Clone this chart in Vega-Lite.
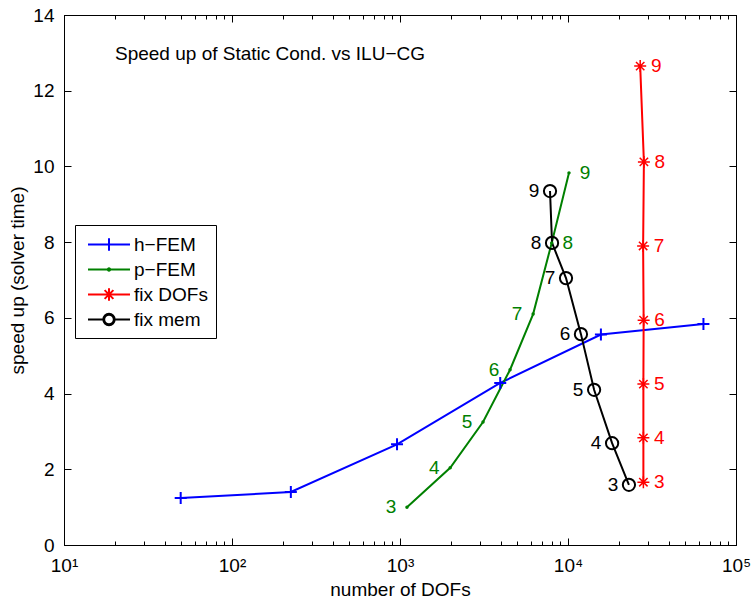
{
  "$schema": "https://vega.github.io/schema/vega-lite/v6.json",
  "width": 672,
  "height": 530,
  "autosize": {"type": "none"},
  "padding": {"left": 64, "top": 15, "right": 16, "bottom": 57},
  "background": "white",
  "title": {
    "text": "Speed up of Static Cond. vs ILU−CG",
    "anchor": "start",
    "frame": "group",
    "orient": "top",
    "offset": 0,
    "baseline": "alphabetic",
    "dx": 51,
    "dy": 73,
    "fontSize": 19,
    "fontWeight": "normal",
    "font": "Liberation Sans",
    "color": "black"
  },
  "config": {
    "font": "Liberation Sans",
    "view": {"stroke": "black", "strokeWidth": 1},
    "axis": {
      "grid": false,
      "domainColor": "black",
      "domainWidth": 1,
      "tickColor": "black",
      "tickWidth": 1,
      "labelColor": "black",
      "labelFontSize": 19,
      "labelFont": "Liberation Sans",
      "titleFont": "Liberation Sans",
      "titleFontSize": 19,
      "titleFontWeight": "normal",
      "titleColor": "black",
      "labelOverlap": false,
      "labelFlush": false,
      "labelBound": false
    },
    "legend": {
      "title": null,
      "orient": "none",
      "legendX": 11,
      "legendY": 210,
      "symbolSize": 441,
      "symbolStrokeWidth": 2,
      "symbolOpacity": 1,
      "symbolOffset": 14.5,
      "labelFontSize": 19,
      "labelFont": "Liberation Sans",
      "labelColor": "black",
      "labelOffset": 13.5,
      "rowPadding": 3,
      "padding": 8,
      "strokeColor": "black",
      "fillColor": "white",
      "symbolFillColor": "transparent"
    }
  },
  "data": {
    "values": [
      {"series": "h−FEM", "n": 1, "dofs": 49.5, "speedup": 1.24},
      {"series": "h−FEM", "n": 2, "dofs": 224, "speedup": 1.40},
      {"series": "h−FEM", "n": 3, "dofs": 960, "speedup": 2.66},
      {"series": "h−FEM", "n": 4, "dofs": 3950, "speedup": 4.28},
      {"series": "h−FEM", "n": 5, "dofs": 15700, "speedup": 5.56},
      {"series": "h−FEM", "n": 6, "dofs": 64000, "speedup": 5.84},
      {"series": "p−FEM", "n": 3, "dofs": 1100, "speedup": 1.0},
      {"series": "p−FEM", "n": 4, "dofs": 1990, "speedup": 2.04},
      {"series": "p−FEM", "n": 5, "dofs": 3120, "speedup": 3.25},
      {"series": "p−FEM", "n": 6, "dofs": 4520, "speedup": 4.63},
      {"series": "p−FEM", "n": 7, "dofs": 6200, "speedup": 6.10},
      {"series": "p−FEM", "n": 8, "dofs": 8000, "speedup": 7.98},
      {"series": "p−FEM", "n": 9, "dofs": 10140, "speedup": 9.83},
      {"series": "fix DOFs", "n": 3, "dofs": 28100, "speedup": 1.66},
      {"series": "fix DOFs", "n": 4, "dofs": 28100, "speedup": 2.83},
      {"series": "fix DOFs", "n": 5, "dofs": 28100, "speedup": 4.25},
      {"series": "fix DOFs", "n": 6, "dofs": 28200, "speedup": 5.94},
      {"series": "fix DOFs", "n": 7, "dofs": 28000, "speedup": 7.90},
      {"series": "fix DOFs", "n": 8, "dofs": 28300, "speedup": 10.12},
      {"series": "fix DOFs", "n": 9, "dofs": 26900, "speedup": 12.65},
      {"series": "fix mem", "n": 3, "dofs": 23050, "speedup": 1.59},
      {"series": "fix mem", "n": 4, "dofs": 18300, "speedup": 2.69},
      {"series": "fix mem", "n": 5, "dofs": 14300, "speedup": 4.10},
      {"series": "fix mem", "n": 6, "dofs": 11940, "speedup": 5.57},
      {"series": "fix mem", "n": 7, "dofs": 9730, "speedup": 7.05},
      {"series": "fix mem", "n": 8, "dofs": 8035, "speedup": 7.98},
      {"series": "fix mem", "n": 9, "dofs": 7815, "speedup": 9.35}
    ]
  },
  "layer": [
    {
      "mark": {"type": "point", "filled": false, "strokeWidth": 2, "strokeOpacity": 0, "fillOpacity": 0},
      "encoding": {
        "x": {
          "field": "dofs", "type": "quantitative",
          "scale": {"type": "log", "domain": [10, 100000], "nice": false},
          "title": "number of DOFs",
          "axis": {
            "orient": "bottom",
            "values": [10,20,30,40,50,60,70,80,90,100,200,300,400,500,600,700,800,900,1000,2000,3000,4000,5000,6000,7000,8000,9000,10000,20000,30000,40000,50000,60000,70000,80000,90000,100000],
            "tickSize": {"condition": {"test": "abs(log(datum.value)/LN10 - round(log(datum.value)/LN10)) < 0.000001", "value": -7}, "value": -4},
            "labelExpr": "abs(log(datum.value)/LN10 - round(log(datum.value)/LN10)) < 0.000001 ? '10' + ['⁰','¹','²','³','⁴','⁵'][round(log(datum.value)/LN10)] : ''",
            "labelPadding": 18,
            "titlePadding": 2
          }
        },
        "y": {
          "field": "speedup", "type": "quantitative",
          "scale": {"domain": [0, 14], "nice": false},
          "title": "speed up (solver time)",
          "axis": {
            "orient": "left",
            "values": [0,2,4,6,8,10,12,14],
            "tickSize": -7,
            "labelPadding": 17,
            "titlePadding": 5
          }
        },
        "color": {
          "field": "series", "type": "nominal",
          "scale": {"domain": ["h−FEM", "p−FEM", "fix DOFs", "fix mem"], "range": ["#0000ff", "#008000", "#ff0000", "#000000"]},
          "legend": {
            "encode": {
              "symbols": {"update": {"opacity": {"value": 1}, "strokeOpacity": {"value": 1}, "fillOpacity": {"value": 0}}},
              "labels": {"update": {"opacity": {"value": 1}}}
            }
          }
        },
        "shape": {
          "field": "series", "type": "nominal",
          "scale": {
            "domain": ["h−FEM", "p−FEM", "fix DOFs", "fix mem"],
            "range": [
              "M-2,0H2M-0.6,0H0.6M0,-0.6V0.6",
              "M-2,0H2M-0.12,0A0.12,0.12 0 1,1 0.12,0A0.12,0.12 0 1,1 -0.12,0",
              "M-2,0H2M0,-0.6V0.6M-0.42,-0.42L0.42,0.42M-0.42,0.42L0.42,-0.42",
              "M-2,0H-0.52M0.52,0H2M-0.54,0A0.54,0.54 0 1,1 0.54,0A0.54,0.54 0 1,1 -0.54,0M-0.46,0A0.46,0.46 0 1,0 0.46,0A0.46,0.46 0 1,0 -0.46,0"
            ]
          },
          "legend": {
            "encode": {
              "symbols": {"update": {"opacity": {"value": 1}, "strokeOpacity": {"value": 1}, "fillOpacity": {"value": 0}}},
              "labels": {"update": {"opacity": {"value": 1}}}
            }
          }
        }
      }
    },
    {
      "mark": {"type": "line", "strokeWidth": 2},
      "encoding": {
        "x": {"field": "dofs", "type": "quantitative", "axis": {"orient": "top", "values": [10,20,30,40,50,60,70,80,90,100,200,300,400,500,600,700,800,900,1000,2000,3000,4000,5000,6000,7000,8000,9000,10000,20000,30000,40000,50000,60000,70000,80000,90000,100000], "labels": false, "title": null, "tickSize": {"condition": {"test": "abs(log(datum.value)/LN10 - round(log(datum.value)/LN10)) < 0.000001", "value": -7}, "value": -4}}},
        "y": {"field": "speedup", "type": "quantitative", "axis": {"orient": "right", "values": [0,2,4,6,8,10,12,14], "labels": false, "title": null, "tickSize": -7}},
        "color": {"field": "series", "type": "nominal"},
        "order": {"field": "n", "type": "quantitative"}
      }
    },
    {
      "transform": [{"filter": "datum.series == 'h−FEM'"}],
      "mark": {"type": "point", "shape": "M-1,0H1M0,-1V1", "size": 144, "filled": false, "strokeWidth": 2, "opacity": 1},
      "encoding": {
        "x": {"field": "dofs", "type": "quantitative", "axis": null},
        "y": {"field": "speedup", "type": "quantitative", "axis": null},
        "color": {"value": "#0000ff"}
      }
    },
    {
      "transform": [{"filter": "datum.series == 'p−FEM'"}],
      "mark": {"type": "point", "shape": "circle", "size": 12, "filled": true, "opacity": 1},
      "encoding": {
        "x": {"field": "dofs", "type": "quantitative", "axis": null},
        "y": {"field": "speedup", "type": "quantitative", "axis": null},
        "color": {"value": "#008000"}
      }
    },
    {
      "transform": [{"filter": "datum.series == 'fix DOFs'"}],
      "mark": {"type": "point", "shape": "M-1,0H1M0,-1V1M-0.7,-0.7L0.7,0.7M-0.7,0.7L0.7,-0.7", "size": 144, "filled": false, "strokeWidth": 1.5, "opacity": 1},
      "encoding": {
        "x": {"field": "dofs", "type": "quantitative", "axis": null},
        "y": {"field": "speedup", "type": "quantitative", "axis": null},
        "color": {"value": "#ff0000"}
      }
    },
    {
      "transform": [{"filter": "datum.series == 'fix mem'"}],
      "mark": {"type": "point", "shape": "circle", "size": 150, "filled": false, "strokeWidth": 2, "opacity": 1},
      "encoding": {
        "x": {"field": "dofs", "type": "quantitative", "axis": null},
        "y": {"field": "speedup", "type": "quantitative", "axis": null},
        "color": {"value": "#000000"}
      }
    },
    {
      "transform": [{"filter": "datum.series == 'fix mem' || (datum.series == 'p−FEM' && datum.n < 8)"}],
      "mark": {"type": "text", "dx": -16, "align": "center", "baseline": "middle", "fontSize": 19, "font": "Liberation Sans"},
      "encoding": {
        "x": {"field": "dofs", "type": "quantitative", "axis": null},
        "y": {"field": "speedup", "type": "quantitative", "axis": null},
        "text": {"field": "n", "type": "quantitative"},
        "color": {"field": "series", "type": "nominal"}
      }
    },
    {
      "transform": [{"filter": "datum.series == 'fix DOFs' || (datum.series == 'p−FEM' && datum.n >= 8)"}],
      "mark": {"type": "text", "dx": 16, "align": "center", "baseline": "middle", "fontSize": 19, "font": "Liberation Sans"},
      "encoding": {
        "x": {"field": "dofs", "type": "quantitative", "axis": null},
        "y": {"field": "speedup", "type": "quantitative", "axis": null},
        "text": {"field": "n", "type": "quantitative"},
        "color": {"field": "series", "type": "nominal"}
      }
    }
  ],
  "resolve": {"axis": {"x": "independent", "y": "independent"}}
}
